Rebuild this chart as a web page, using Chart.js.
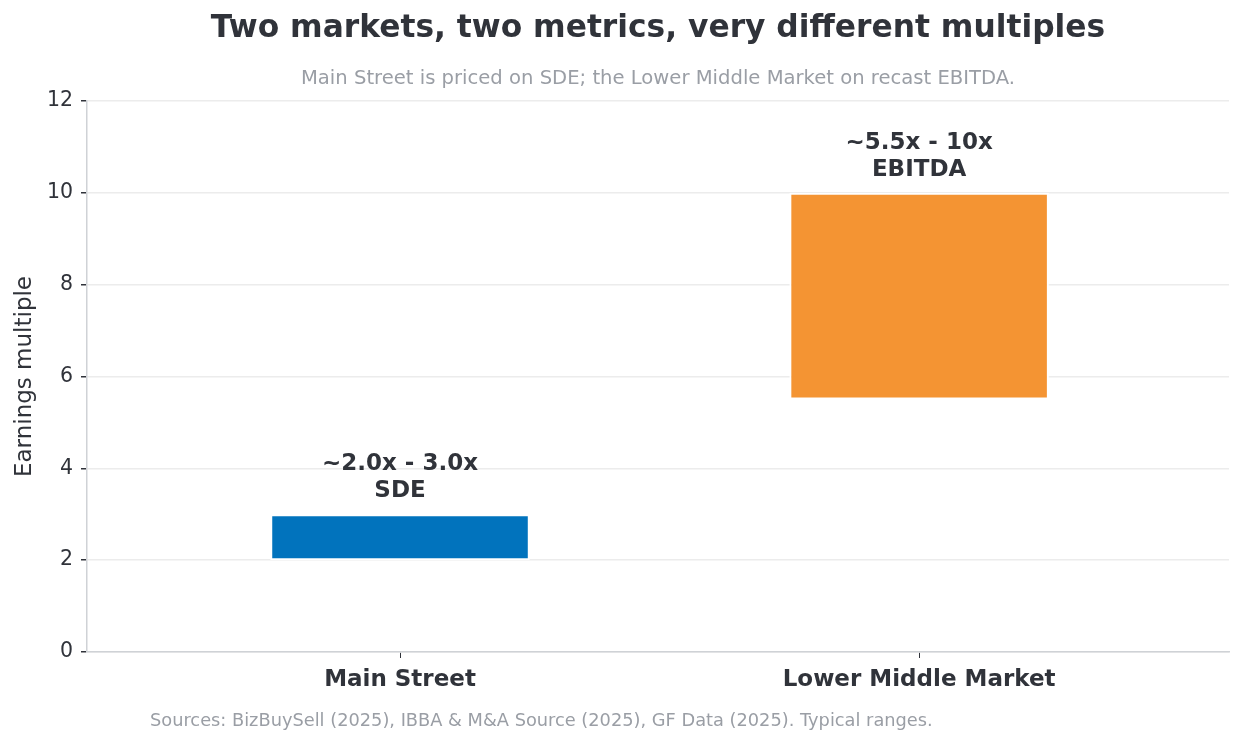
<!DOCTYPE html>
<html>
<head>
<meta charset="utf-8">
<script src="https://cdn.jsdelivr.net/npm/chart.js@4"></script>
<style>
  html, body { margin: 0; padding: 0; background: #fff; }
  #wrap { width: 1244px; height: 745px; }
</style>
</head>
<body>
<div id="wrap"><canvas id="multChart" width="1244" height="745"></canvas></div>
<script>
  const categories = ["Main Street", "Lower Middle Market"];
  const lowValues = [2.0, 5.5];
  const highValues = [3.0, 10.0];
  const rangeLabels = ["~2.0x - 3.0x", "~5.5x - 10x"];
  const metricLabels = ["SDE", "EBITDA"];
  const barColors = ["#0173bd", "#f49433"];
  const yTicks = [0, 2, 4, 6, 8, 10, 12];

  const titleText = "Two markets, two metrics, very different multiples";
  const subtitleText = "Main Street is priced on SDE; the Lower Middle Market on recast EBITDA.";
  const footerText = "Sources: BizBuySell (2025), IBBA & M&A Source (2025), GF Data (2025). Typical ranges.";

  const FONT = "'DejaVu Sans', sans-serif";
  const DARK = "#30333a";
  const GREY = "#9a9ea5";

  // titles, bar annotations and footer
  const textPlugin = {
    id: "textPlugin",
    afterDraw(chart) {
      const c = chart.ctx;
      const area = chart.chartArea;
      const mid = (area.left + area.right) / 2;
      c.save();
      c.textAlign = "center";
      c.textBaseline = "middle";
      c.fillStyle = DARK;
      c.font = "bold 31.3px " + FONT;
      c.fillText(titleText, mid, 29);
      c.fillStyle = GREY;
      c.font = "19.6px " + FONT;
      c.fillText(subtitleText, mid, 79);

      const meta = chart.getDatasetMeta(0);
      const yScale = chart.scales.y;
      c.fillStyle = DARK;
      c.font = "bold 23px " + FONT;
      meta.data.forEach((bar, i) => {
        const top = yScale.getPixelForValue(highValues[i]);
        c.fillText(rangeLabels[i], bar.x, top - 50);
        c.fillText(metricLabels[i], bar.x, top - 23);
      });

      c.textAlign = "left";
      c.fillStyle = GREY;
      c.font = "17.8px " + FONT;
      c.fillText(footerText, 150, 721);
      c.restore();
    }
  };

  const ctx = document.getElementById("multChart").getContext("2d");

  const multChart = new Chart(ctx, {
    type: "bar",
    data: {
      datasets: [{
        data: categories.map((name, i) => ({ x: i, y: [lowValues[i], highValues[i]] })),
        backgroundColor: barColors,
        borderColor: "#ffffff",
        borderWidth: 2,
        borderSkipped: false,
        barPercentage: 0.5,
        categoryPercentage: 1.0
      }]
    },
    options: {
      responsive: false,
      animation: false,
      events: [],
      layout: { padding: { left: 0, right: 15, top: 101, bottom: 0 } },
      plugins: {
        legend: { display: false },
        tooltip: { enabled: false }
      },
      scales: {
        x: {
          type: "linear",
          min: -0.603,
          max: 1.597,
          offset: false,
          afterBuildTicks(scale) {
            scale.ticks = categories.map((n, i) => ({ value: i }));
          },
          afterFit(scale) { scale.height = 93; },
          border: { color: "#cfd2d6", width: 1.5 },
          grid: {
            offset: false,
            drawOnChartArea: false,
            drawTicks: true,
            tickLength: 6,
            tickColor: DARK
          },
          ticks: {
            padding: 8,
            color: DARK,
            font: { family: FONT, size: 23, weight: "bold" },
            callback: (v) => categories[v] !== undefined ? categories[v] : ""
          }
        },
        y: {
          min: 0,
          max: 12,
          afterBuildTicks(scale) {
            scale.ticks = yTicks.map(v => ({ value: v }));
          },
          afterFit(scale) { scale.width = 87; },
          border: { color: "#cfd2d6", width: 1.5 },
          grid: {
            color: "#ececec",
            lineWidth: 1.5,
            tickLength: 6,
            tickColor: DARK
          },
          ticks: {
            padding: 8,
            color: DARK,
            font: { family: FONT, size: 20.5 }
          },
          title: {
            display: true,
            text: "Earnings multiple",
            color: DARK,
            font: { family: FONT, size: 23 },
            padding: { top: 11, bottom: 0 }
          }
        }
      }
    },
    plugins: [textPlugin]
  });
</script>
</body>
</html>
